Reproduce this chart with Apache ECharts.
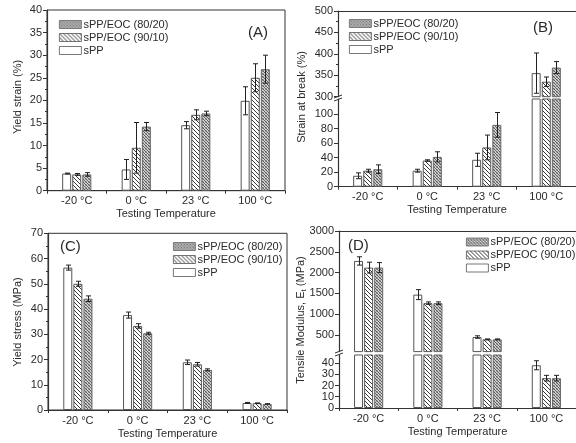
<!DOCTYPE html>
<html>
<head>
<meta charset="utf-8">
<script src="https://cdn.jsdelivr.net/npm/echarts@6/dist/echarts.min.js"></script>
<style>html,body{margin:0;padding:0;background:#fff;}#c{width:576px;height:443px;}</style>
</head>
<body>
<div id="c"></div>
<script>
// ---------------- data ----------------
const categories = ['-20 °C', '0 °C', '23 °C', '100 °C'];
const seriesNames = ['sPP', 'sPP/EOC (90/10)', 'sPP/EOC (80/20)'];
const legendOrder = ['sPP/EOC (80/20)', 'sPP/EOC (90/10)', 'sPP'];

// (A) Yield strain (%)
const strainSPP = [3.8, 4.7, 14.5, 19.9];
const strainSPPErr = [0.1, 2.2, 0.8, 3.1];
const strain9010 = [3.6, 9.5, 16.8, 25.0];
const strain9010Err = [0.2, 5.6, 1.1, 3.1];
const strain8020 = [3.6, 14.2, 17.1, 26.9];
const strain8020Err = [0.4, 0.9, 0.5, 3.1];

// (B) Strain at break (%)
const breakSPP = [15, 22, 37, 355];
const breakSPPErr = [4, 2, 9, 47];
const break9010 = [22, 36, 54, 335];
const break9010Err = [2, 1, 17, 11];
const break8020 = [24, 41, 85, 368];
const break8020Err = [6, 7, 17, 14];

// (C) Yield stress (MPa)
const stressSPP = [56.4, 37.6, 18.9, 2.8];
const stressSPPErr = [1.0, 1.2, 0.9, 0.2];
const stress9010 = [50.0, 33.3, 18.1, 2.7];
const stress9010Err = [1.0, 0.9, 0.7, 0.1];
const stress8020 = [44.1, 30.4, 15.9, 2.4];
const stress8020Err = [1.1, 0.4, 0.4, 0.1];

// (D) Tensile modulus (MPa)
const modulusSPP = [2280, 1470, 450, 38];
const modulusSPPErr = [100, 120, 30, 4];
const modulus9010 = [2120, 1265, 395, 26.5];
const modulus9010Err = [130, 30, 10, 2.5];
const modulus8020 = [2120, 1265, 395, 26.5];
const modulus8020Err = [120, 30, 10, 2.5];

// tick labels
const ticksA = { min: 0, max: 40, interval: 5 };
const ticksBUpper = { min: 300, max: 500, interval: 50 };
const ticksBLower = [0, 20, 40, 60, 80, 100];
const ticksC = { min: 0, max: 70, interval: 10 };
const ticksDUpper = [500, 1000, 1500, 2000, 2500, 3000];
const ticksDLower = [0, 10, 20, 30, 40];

// ---------------- styles ----------------
const FONT = 'Liberation Sans, Arial, sans-serif';
const TXT = '#2a2a2a';
const LINE = '#333';
const BAR_W = 9;
const GAP = 0.12;

function makePattern(kind) {
  const n = kind === 'dense' ? 3 : 4;
  const c = document.createElement('canvas');
  c.width = n; c.height = n;
  const ctx = c.getContext('2d');
  const img = ctx.createImageData(n, n);
  for (let y = 0; y < n; y++) {
    for (let x = 0; x < n; x++) {
      let v;
      if (kind === 'dense') {
        if (((x - y) % n + n) % n === 0) v = 95;
        else if ((x + y) % n === 0) v = 160;
        else v = 210;
      } else {
        v = (((x - y) % n + n) % n === 0) ? 60 : 255;
      }
      const k = (y * n + x) * 4;
      img.data[k] = v; img.data[k + 1] = v; img.data[k + 2] = v; img.data[k + 3] = 255;
    }
  }
  ctx.putImageData(img, 0, 0);
  return { image: c, repeat: 'repeat' };
}
const pat9010 = makePattern('hatch');
const pat8020 = makePattern('dense');
const barStyles = [
  { color: '#fff', borderColor: '#555', borderWidth: 1 },
  { color: pat9010, borderColor: '#555', borderWidth: 1 },
  { color: pat8020, borderColor: '#666', borderWidth: 1 }
];

function errRender(offset) {
  return function (params, api) {
    const i = api.value(0), v = api.value(1), e = api.value(2);
    const p1 = api.coord([i, v + e]);
    const p2 = api.coord([i, v - e]);
    const cs = params.coordSys;
    const x = Math.round(p1[0] + offset) + 0.5;
    const top = cs.y, bot = cs.y + cs.height;
    const y1 = p1[1], y2 = p2[1];
    const st = { stroke: '#222', lineWidth: 1 };
    const ch = [];
    const ya = Math.max(y1, top), yb = Math.min(y2, bot);
    if (ya < yb) ch.push({ type: 'line', shape: { x1: x, y1: ya, x2: x, y2: yb }, style: st });
    if (y1 >= top && y1 <= bot) ch.push({ type: 'line', shape: { x1: x - 2.5, y1: y1, x2: x + 2.5, y2: y1 }, style: st });
    if (y2 >= top && y2 <= bot) ch.push({ type: 'line', shape: { x1: x - 2.5, y1: y2, x2: x + 2.5, y2: y2 }, style: st });
    return { type: 'group', children: ch };
  };
}

function panelSeries(gi, vals, errs) {
  const out = [];
  for (let s = 0; s < 3; s++) {
    out.push({
      type: 'bar', name: seriesNames[s], xAxisIndex: gi, yAxisIndex: gi,
      data: vals[s], barWidth: BAR_W, barGap: (GAP * 100) + '%',
      itemStyle: barStyles[s], clip: true, animation: false, z: 2
    });
  }
  for (let s = 0; s < 3; s++) {
    const offset = (s - 1) * BAR_W * (1 + GAP);
    out.push({
      type: 'custom', xAxisIndex: gi, yAxisIndex: gi, z: 5, animation: false, silent: true,
      renderItem: errRender(offset), encode: { x: 0, y: 1 },
      data: vals[s].map((v, k) => [k, v, errs[s][k]])
    });
  }
  return out;
}

const grids = [
  { left: 47, top: 10, width: 238, height: 180.7, show: true, borderColor: LINE, borderWidth: 1 },
  { left: 338, top: 11, width: 240, height: 85.7 },
  { left: 338, top: 99, width: 240, height: 87.7 },
  { left: 48, top: 233.3, width: 239, height: 176.7, show: true, borderColor: LINE, borderWidth: 1 },
  { left: 339, top: 231, width: 240, height: 120.6 },
  { left: 339, top: 355, width: 240, height: 53 }
];

function xAxisFor(gi, visible) {
  if (!visible) {
    return {
      type: 'category', gridIndex: gi, data: categories, position: 'top',
      axisLine: { show: true, lineStyle: { color: LINE } }, axisTick: { show: false },
      axisLabel: { show: false }, splitLine: { show: false }
    };
  }
  return {
    type: 'category', gridIndex: gi, data: categories,
    axisLine: { show: true, lineStyle: { color: LINE, width: 1.2 } },
    axisTick: { show: true, length: 3, lineStyle: { color: LINE } },
    axisLabel: { fontSize: 11, color: TXT, fontFamily: FONT, margin: 5 },
    name: 'Testing Temperature', nameLocation: 'middle', nameGap: 18,
    nameTextStyle: { fontSize: 11, color: TXT, fontFamily: FONT }
  };
}

function yAxisFor(gi, opt) {
  const base = {
    type: 'value', gridIndex: gi,
    axisLine: { show: true, lineStyle: { color: LINE, width: 1.2 } },
    axisTick: { show: true, length: 4, lineStyle: { color: LINE } },
    minorTick: { show: !!opt.minor, splitNumber: 2, length: 2, lineStyle: { color: LINE } },
    splitLine: { show: false },
    axisLabel: { fontSize: 11, color: TXT, fontFamily: FONT, margin: 5, formatter: (v) => String(v) }
  };
  base.min = opt.min; base.max = opt.max;
  if (opt.interval) base.interval = opt.interval;
  if (opt.custom) {
    base.axisLabel.customValues = opt.custom;
    base.axisTick.customValues = opt.custom;
  }
  return base;
}

const xAxes = [
  xAxisFor(0, true), xAxisFor(1, false), xAxisFor(2, true),
  xAxisFor(3, true), xAxisFor(4, false), xAxisFor(5, true)
];
const yAxes = [
  yAxisFor(0, { min: ticksA.min, max: ticksA.max, interval: ticksA.interval, minor: true }),
  yAxisFor(1, { min: ticksBUpper.min, max: ticksBUpper.max, interval: ticksBUpper.interval, minor: true }),
  yAxisFor(2, { min: 0, max: 120.6, custom: ticksBLower }),
  yAxisFor(3, { min: ticksC.min, max: ticksC.max, interval: ticksC.interval, minor: true }),
  yAxisFor(4, { min: 100, max: 3000, custom: ticksDUpper }),
  yAxisFor(5, { min: 0, max: 47.1, custom: ticksDLower })
];

const series = [].concat(
  panelSeries(0, [strainSPP, strain9010, strain8020], [strainSPPErr, strain9010Err, strain8020Err]),
  panelSeries(1, [breakSPP, break9010, break8020], [breakSPPErr, break9010Err, break8020Err]),
  panelSeries(2, [breakSPP, break9010, break8020], [breakSPPErr, break9010Err, break8020Err]),
  panelSeries(3, [stressSPP, stress9010, stress8020], [stressSPPErr, stress9010Err, stress8020Err]),
  panelSeries(4, [modulusSPP, modulus9010, modulus8020], [modulusSPPErr, modulus9010Err, modulus8020Err]),
  panelSeries(5, [modulusSPP, modulus9010, modulus8020], [modulusSPPErr, modulus9010Err, modulus8020Err])
);

function legendAt(left, top) {
  return {
    data: legendOrder, orient: 'vertical', left: left, top: top, padding: 0,
    itemWidth: 22, itemHeight: 8, itemGap: 1, icon: 'rect', selectedMode: false,
    itemStyle: { borderWidth: 0.8 },
    textStyle: { fontSize: 11, lineHeight: 12, color: TXT, fontFamily: FONT, padding: [0, 0, 0, -3] }
  };
}

function panelTitle(text, left, top) {
  return { text: text, left: left, top: top, textStyle: { fontSize: 15, fontWeight: 'normal', color: TXT, fontFamily: FONT }, padding: 0 };
}

function yName(text, x, y, rich) {
  return {
    type: 'text', x: x, y: y, rotation: Math.PI / 2, silent: true,
    style: { text: text, align: 'center', verticalAlign: 'middle', fontSize: 11, fill: TXT, fontFamily: FONT, rich: rich || {} }
  };
}
function breakMark(x, y) {
  return {
    type: 'group', x: x, y: y, silent: true,
    children: [
      { type: 'rect', shape: { x: -2, y: -1, width: 4, height: 3 }, style: { fill: '#fff' } },
      { type: 'line', shape: { x1: -4, y1: 1, x2: 4, y2: -2 }, style: { stroke: LINE, lineWidth: 1 } },
      { type: 'line', shape: { x1: -4, y1: 4, x2: 4, y2: 1 }, style: { stroke: LINE, lineWidth: 1 } }
    ]
  };
}

const option = {
  backgroundColor: '#fff',
  animation: false,
  grid: grids,
  xAxis: xAxes,
  yAxis: yAxes,
  series: series,
  legend: [legendAt(59, 18.5), legendAt(349, 17.5), legendAt(173, 240.5), legendAt(466, 236)],
  title: [panelTitle('(A)', 248, 25), panelTitle('(B)', 533, 20), panelTitle('(C)', 60, 239), panelTitle('(D)', 348, 238)],
  graphic: [
    yName('Yield strain (%)', 18, 97),
    yName('Strain at break (%)', 302, 97),
    yName('Yield stress (MPa)', 18, 322),
    yName('Tensile Modulus, E{s|t} (MPa)', 301, 320, { s: { fontSize: 8, fill: TXT, fontFamily: FONT, padding: [5, 0, 0, 0] } }),
    breakMark(338, 97),
    breakMark(339, 352)
  ]
};

const chart = echarts.init(document.getElementById('c'), null, { renderer: 'canvas' });
chart.setOption(option);
</script>
</body>
</html>
